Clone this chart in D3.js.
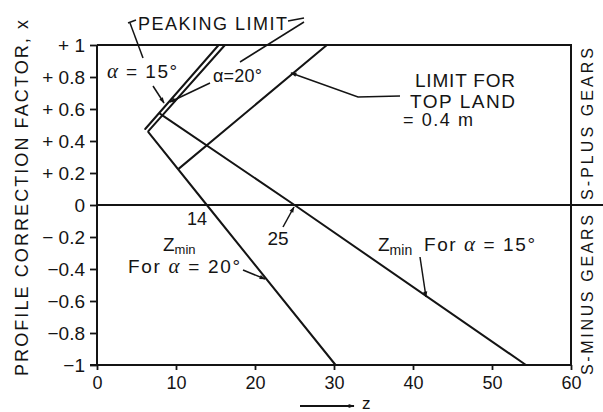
<!DOCTYPE html>
<html><head><meta charset="utf-8">
<script src="https://cdn.jsdelivr.net/npm/d3@7"></script>
<style>
html,body{margin:0;padding:0;background:#fff;}
svg{display:block;}
text{font-family:"Liberation Sans",Arial,sans-serif;fill:#141414;}
</style></head>
<body>
<svg id="c" width="603" height="412"></svg>
<script>
// ---- data (z = number of teeth, x = profile correction factor) ----
const xTickValues = [0, 10, 20, 30, 40, 50, 60];
const xTickLabels = ["0", "10", "20", "30", "40", "50", "60"];
const yTickValues = [1, 0.8, 0.6, 0.4, 0.2, 0, -0.2, -0.4, -0.6, -0.8, -1];
const yTickLabels = ["+ 1", "+ 0.8", "+ 0.6", "+ 0.4", "+ 0.2", "0", "\u2212 0.2", "\u22120.4", "\u22120.6", "\u22120.8", "\u22121"];
const zmin20 = [[6.5, 0.456], [13.9, 0], [30.2, -1]];
const zmin15 = [[8.0, 0.57], [25, 0], [54.3, -1]];
const peak15 = [[6.1, 0.475], [15.4, 1]];
const peak20 = [[6.5, 0.462], [16.2, 1]];
const topLand = [[10.4, 0.229], [29.1, 1]];

const svg = d3.select("#c");
const ink = "#141414";
const x = d3.scaleLinear().domain([0, 60]).range([97, 571]);
const y = d3.scaleLinear().domain([-1, 1]).range([365, 45]);

// marker
svg.append("defs").append("marker")
  .attr("id", "ah").attr("viewBox", "0 0 10 10").attr("refX", 9).attr("refY", 5)
  .attr("markerWidth", 8).attr("markerHeight", 6).attr("orient", "auto")
  .attr("markerUnits", "userSpaceOnUse")
  .append("path").attr("d", "M0,1.5 L10,5 L0,8.5 Z").attr("fill", ink);

// axes
const yAxis = d3.axisLeft(y).tickValues(yTickValues)
  .tickFormat((d, i) => yTickLabels[i]).tickSize(7).tickPadding(5);
const gy = svg.append("g").attr("transform", `translate(${x(0)},0)`).call(yAxis);
gy.select(".domain").remove();
gy.selectAll("line").attr("stroke", ink).attr("stroke-width", 1.8);
gy.selectAll("text").attr("font-size", 19).attr("fill", ink)
  .attr("font-family", '"Liberation Sans",Arial,sans-serif');

const xAxis = d3.axisBottom(x).tickValues(xTickValues)
  .tickFormat((d, i) => xTickLabels[i]).tickSize(5).tickPadding(6);
const gx = svg.append("g").attr("transform", `translate(0,${y(-1)})`).call(xAxis);
gx.select(".domain").remove();
gx.selectAll("line").attr("stroke", ink).attr("stroke-width", 1.8);
gx.selectAll("text").attr("font-size", 18).attr("fill", ink)
  .attr("font-family", '"Liberation Sans",Arial,sans-serif');

// frame
svg.append("path")
  .attr("d", `M${x(0)},${y(1)} H${x(60)} V${y(-1)} H${x(0) - 7} M${x(0)},${y(-1)} V${y(1)}`)
  .attr("fill", "none").attr("stroke", ink).attr("stroke-width", 2);
// zero line extending to right edge
svg.append("line").attr("x1", x(0)).attr("x2", 603).attr("y1", y(0)).attr("y2", y(0))
  .attr("stroke", ink).attr("stroke-width", 2);

// data lines
const line = d3.line().x(d => x(d[0])).y(d => y(d[1]));
[zmin20, zmin15, peak15, peak20, topLand].forEach(s => {
  svg.append("path").attr("d", line(s)).attr("fill", "none")
    .attr("stroke", ink).attr("stroke-width", 2).attr("stroke-linecap", "round");
});

// axis titles
svg.append("text").attr("transform", "translate(28,198) rotate(-90)")
  .attr("text-anchor", "middle").attr("font-size", 18)
  .attr("textLength", 356).attr("lengthAdjust", "spacing")
  .text("PROFILE  CORRECTION FACTOR, x");
svg.append("text").attr("transform", "translate(593,124) rotate(-90)")
  .attr("text-anchor", "middle").attr("font-size", 16)
  .attr("textLength", 152).attr("lengthAdjust", "spacing")
  .text("S-PLUS GEARS");
svg.append("text").attr("transform", "translate(593,295) rotate(-90)")
  .attr("text-anchor", "middle").attr("font-size", 16)
  .attr("textLength", 160).attr("lengthAdjust", "spacing")
  .text("S-MINUS GEARS");

// z arrow
svg.append("line").attr("x1", 300).attr("y1", 406).attr("x2", 354).attr("y2", 406)
  .attr("stroke", ink).attr("stroke-width", 2).attr("marker-end", "url(#ah)");
svg.append("text").attr("x", 362).attr("y", 409).attr("font-size", 17).text("z");

// helper for leaders
function lead(pts, arrow) {
  const p = svg.append("path").attr("d", d3.line()(pts)).attr("fill", "none")
    .attr("stroke", ink).attr("stroke-width", 1.5);
  if (arrow) p.attr("marker-end", "url(#ah)");
}
const greek = t => t.append("tspan").attr("font-family", '"Liberation Serif",serif')
  .attr("font-style", "italic").attr("font-size", "1.1em").text("\u03b1");

// PEAKING LIMIT
svg.append("text").attr("x", 138).attr("y", 30).attr("font-size", 18)
  .attr("textLength", 149).attr("lengthAdjust", "spacing").text("PEAKING LIMIT");
lead([[128, 23], [136, 20]]);
lead([[130, 23], [143, 58]]);
lead([[288, 21], [304, 18]]);
lead([[304, 22], [240, 62]]);

// alpha labels
const t15 = svg.append("text").attr("x", 107).attr("y", 78).attr("font-size", 19)
  .attr("textLength", 70).attr("lengthAdjust", "spacing");
greek(t15); t15.append("tspan").text(" = 15\u00b0");
lead([[153, 86], [164, 103]], true);
svg.append("text").attr("x", 213).attr("y", 82).attr("font-size", 18)
  .attr("textLength", 49).attr("lengthAdjust", "spacing").text("\u03b1=20\u00b0");
lead([[210, 83], [170, 102]], true);

// LIMIT FOR TOP LAND
svg.append("text").attr("x", 515).attr("y", 87).attr("text-anchor", "end").attr("font-size", 19)
  .attr("textLength", 100).attr("lengthAdjust", "spacing").text("LIMIT FOR");
svg.append("text").attr("x", 515).attr("y", 108).attr("text-anchor", "end").attr("font-size", 19)
  .attr("textLength", 105).attr("lengthAdjust", "spacing").text("TOP  LAND");
svg.append("text").attr("x", 403).attr("y", 126).attr("font-size", 18)
  .attr("textLength", 70).attr("lengthAdjust", "spacing").text("= 0.4 m");
lead([[400, 96], [358, 97], [291, 73]], true);

// 14 and 25
svg.append("text").attr("x", 197).attr("y", 225).attr("text-anchor", "middle").attr("font-size", 18).text("14");
svg.append("text").attr("x", 278).attr("y", 245).attr("text-anchor", "middle").attr("font-size", 19).text("25");
lead([[283, 227], [294, 207]], true);

// Zmin for alpha = 20
const z20 = svg.append("text").attr("x", 163).attr("y", 251).attr("font-size", 19);
z20.append("tspan").text("Z");
z20.append("tspan").attr("font-size", 13).attr("dy", 3).text("min");
const f20 = svg.append("text").attr("x", 128).attr("y", 273).attr("font-size", 19)
  .attr("textLength", 112).attr("lengthAdjust", "spacing");
f20.append("tspan").text("For  ");
greek(f20); f20.append("tspan").text(" = 20\u00b0");
lead([[243, 270], [265, 279]], true);

// Zmin for alpha = 15
const z15 = svg.append("text").attr("x", 378).attr("y", 251).attr("font-size", 19);
z15.append("tspan").text("Z");
z15.append("tspan").attr("font-size", 14).attr("dy", 4).text("min");
const f15 = svg.append("text").attr("x", 424).attr("y", 251).attr("font-size", 19)
  .attr("textLength", 111).attr("lengthAdjust", "spacing");
f15.append("tspan").text("For  ");
greek(f15); f15.append("tspan").text(" = 15\u00b0");
lead([[420, 257], [426, 297]], true);
</script>
</body></html>
